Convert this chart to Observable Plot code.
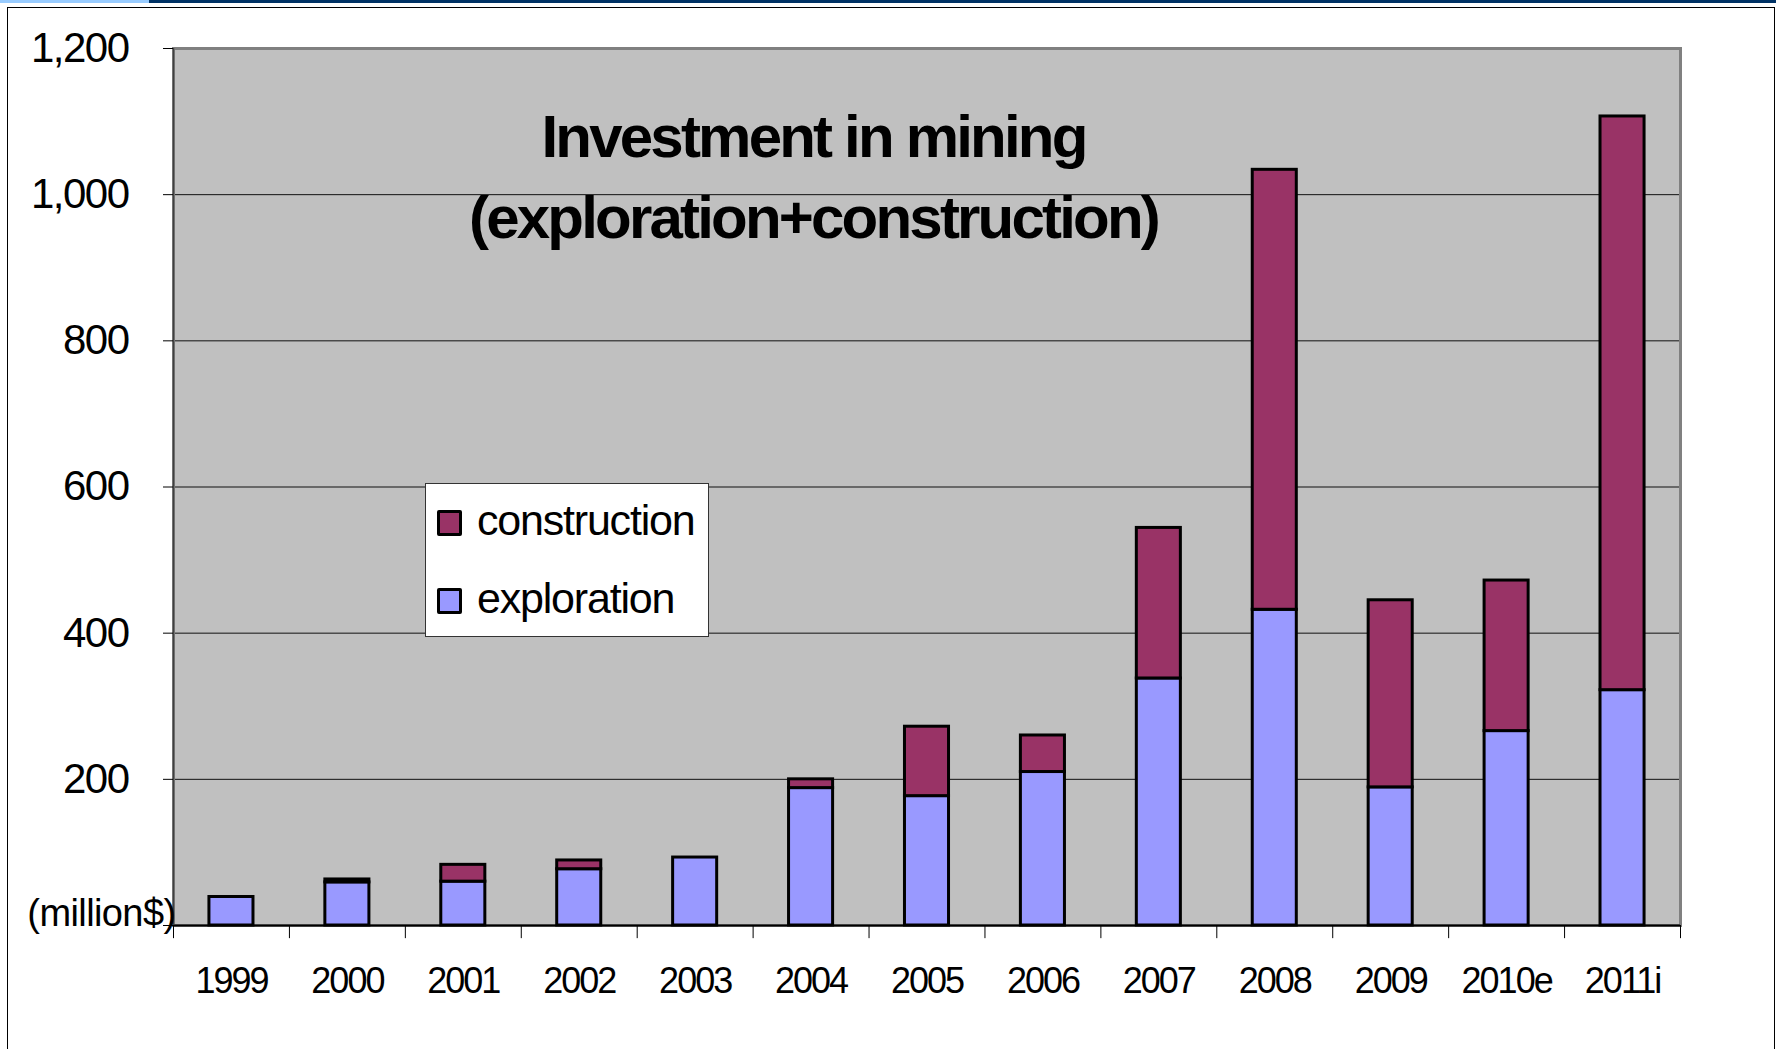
<!DOCTYPE html>
<html><head><meta charset="utf-8">
<script src="https://cdn.jsdelivr.net/npm/d3@7"></script>
<script src="https://cdn.jsdelivr.net/npm/@observablehq/plot@0.6"></script>
<style>
html,body{margin:0;padding:0;background:#fff;width:1776px;height:1049px;overflow:hidden;font-family:"Liberation Sans",Arial,sans-serif;}
#topbar{position:absolute;left:0;top:0;width:1776px;height:3px;background:linear-gradient(to right,#99ccff 0,#99ccff 149px,#003366 149px);}
#frame{position:absolute;left:7px;top:7px;width:1768px;height:1100px;border:1.5px solid #000;box-sizing:border-box;}
#chart{position:absolute;left:0;top:0;}
#legend{position:absolute;left:425px;top:483px;width:284px;height:154px;box-sizing:border-box;background:#fff;border:1.5px solid #333;}
.row{position:absolute;left:11px;display:flex;align-items:center;height:50px;}
.sw{width:25px;height:26px;box-sizing:border-box;border:3px solid #000;border-radius:2px;margin-right:15px;}
.lab{font-size:43px;letter-spacing:-1.2px;color:#000;line-height:50px;position:relative;top:-3px;}
svg g[font-size="60"] text{letter-spacing:-2.8px}
svg g[font-size="42"] text{letter-spacing:-1.5px}
svg g[font-size="36"] text{letter-spacing:-2px}
svg g[font-size="38"] text{letter-spacing:-0.6px}
</style></head>
<body>
<div id="topbar"></div>
<div id="frame"></div>
<div id="chart"></div>
<div id="legend"></div>
<script>
const years = ["1999","2000","2001","2002","2003","2004","2005","2006","2007","2008","2009","2010e","2011i"];
const exploration = [39, 59, 60, 77, 93, 188, 177, 210, 338, 432, 189, 266, 322];
const construction = [0, 4, 23, 12, 0, 12, 95, 50, 206, 602, 256, 206, 785];
const seriesNames = ["construction", "exploration"];
const seriesColors = ["#993366", "#9999ff"];
const yTicks = [0, 200, 400, 600, 800, 1000, 1200];
const titleLines = ["Investment in mining", "(exploration+construction)"];
const unitLabel = "(million$)";

const rows = [];
years.forEach((yr, i) => {
  rows.push({year: yr, series: "exploration", value: exploration[i]});
  rows.push({year: yr, series: "construction", value: construction[i]});
});

const W = 1776, H = 1049, mL = 173, mR = 96, mT = 48, mB = 124;
const step = (W - mL - mR) / years.length;

const chart = Plot.plot({
  width: W, height: H,
  marginLeft: mL, marginRight: mR, marginTop: mT, marginBottom: mB,
  style: {background: "transparent", fontFamily: "Liberation Sans, Arial, sans-serif", color: "#000", overflow: "visible"},
  x: {domain: years, paddingInner: 0.62, paddingOuter: 0.31, round: false},
  y: {domain: [0, 1200]},
  color: {domain: seriesNames, range: seriesColors},
  marks: [
    Plot.frame({fill: "#c0c0c0"}),
    Plot.gridY(yTicks.filter(t => t > 0 && t < 1200), {stroke: "#111", strokeOpacity: 1, strokeWidth: 1}),
    Plot.frame({stroke: "#808080", strokeWidth: 3}),
    Plot.barY(rows.filter(d => d.value > 0), {
      x: "year", y: "value", z: "series", fill: "series",
      stroke: "#000", strokeWidth: 3, order: ["exploration", "construction"]
    }),
    Plot.ruleY([0], {stroke: "#000", strokeWidth: 2}),
    Plot.ruleX(years, {x: d => d, dx: -step / 2, y1: -18, y2: 0, stroke: "#000", strokeWidth: 1}),
    Plot.ruleX([years[years.length - 1]], {x: d => d, dx: step / 2, y1: -18, y2: 0, stroke: "#000", strokeWidth: 1}),
    Plot.ruleX([years[0]], {x: d => d, dx: -step / 2, y1: 0, y2: 1200, stroke: "#404040", strokeWidth: 1.5}),
    Plot.axisY(yTicks, {
      tickSize: 10, tickPadding: 35, fontSize: 42, label: null, stroke: "#000",
      tickFormat: d => d === 0 ? "" : d3.format(",")(d)
    }),
    Plot.axisX({tickSize: 0, tickPadding: 42, fontSize: 36, label: null}),
    Plot.text([unitLabel], {text: d => d, frameAnchor: "bottom-left", dx: 2, textAnchor: "end", lineAnchor: "bottom", fontSize: 38}),
    Plot.text([titleLines[0]], {text: d => d, frameAnchor: "top-left", dx: 640, dy: 108, textAnchor: "middle", lineAnchor: "bottom", fontSize: 60, fontWeight: "bold"}),
    Plot.text([titleLines[1]], {text: d => d, frameAnchor: "top-left", dx: 640, dy: 189, textAnchor: "middle", lineAnchor: "bottom", fontSize: 60, fontWeight: "bold"})
  ]
});
document.getElementById("chart").appendChild(chart);

const legend = document.getElementById("legend");
const rowTops = [14, 92];
seriesNames.forEach((name, i) => {
  const r = document.createElement("div");
  r.className = "row";
  r.style.top = rowTops[i] + "px";
  const sw = document.createElement("div");
  sw.className = "sw";
  sw.style.background = seriesColors[i];
  const lab = document.createElement("span");
  lab.className = "lab";
  lab.textContent = name;
  r.appendChild(sw);
  r.appendChild(lab);
  legend.appendChild(r);
});
</script>
</body></html>
